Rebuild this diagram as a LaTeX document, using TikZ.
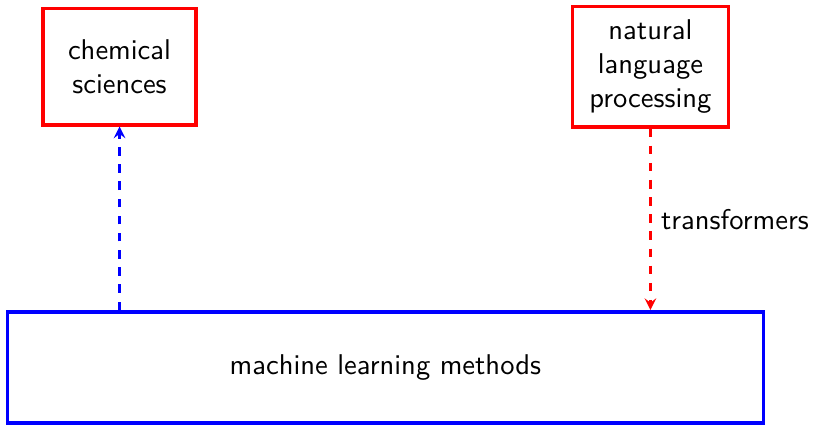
\documentclass[tikz,border=0pt]{standalone}
\usepackage{tikz}

\begin{document}
\begin{tikzpicture}[font=\sffamily]

      \useasboundingbox (0,0) rectangle (10.0,-5.23);

      \begin{scope}[every node/.style={draw=red,very thick,align=center,inner sep=0pt}]
        \node[minimum width=1.88cm,minimum height=1.43cm] (chem) at (1.47,-0.82) {chemical\\sciences};
        \node[minimum width=1.92cm,minimum height=1.48cm] (nlp)  at (8.0,-0.82)  {natural\\language\\processing};
      \end{scope}

      \node[draw=blue,very thick,minimum width=9.30cm,minimum height=1.37cm] (ml) at (4.74,-4.52) {machine learning methods};

      \begin{scope}[every edge/.style={draw,thick,dashed,-stealth}]
        \path (chem.south |- ml.north) edge[blue] (chem.south);
        \path (nlp.south) edge[red] node[right,black] {transformers} (nlp.south |- ml.north);
      \end{scope}

    \end{tikzpicture}
\end{document}
